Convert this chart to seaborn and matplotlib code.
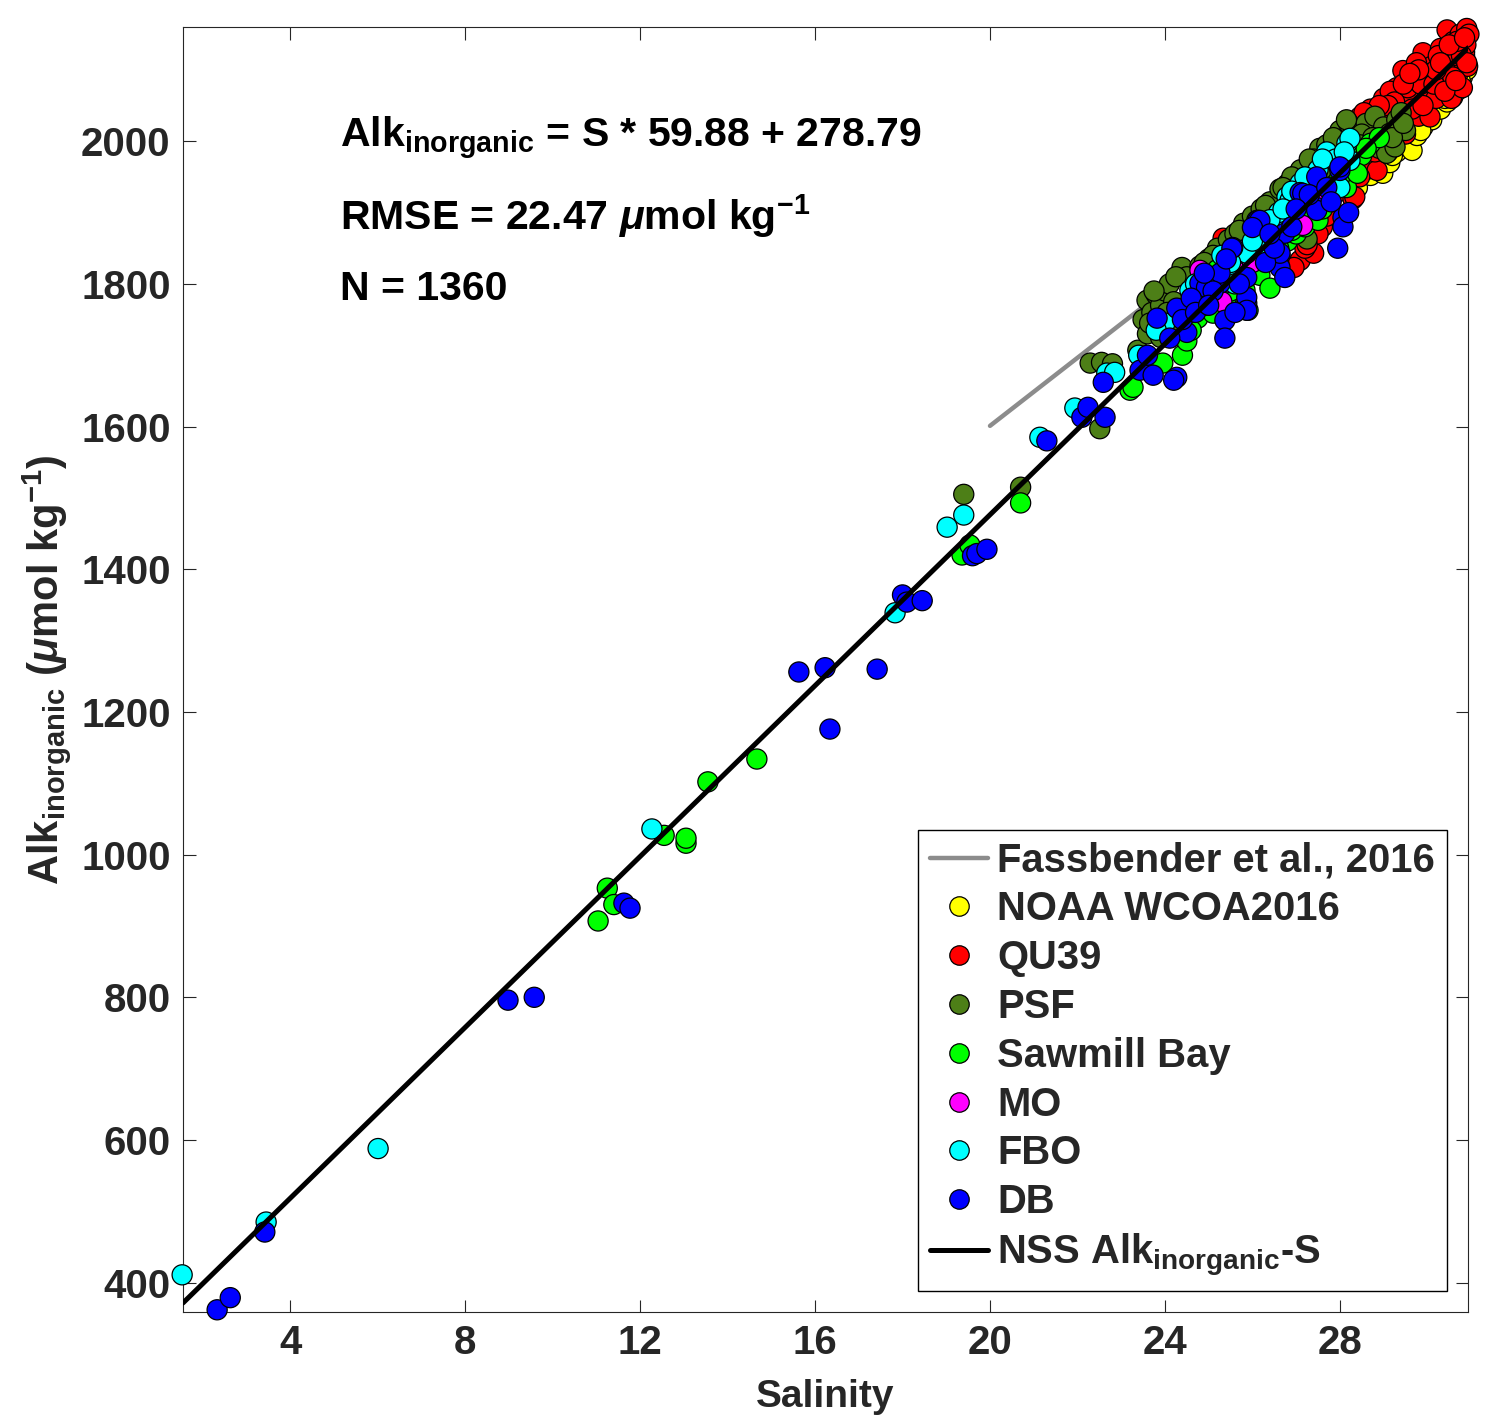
import numpy as np
import pandas as pd
import matplotlib
matplotlib.use("Agg")
import matplotlib.pyplot as plt
from matplotlib.lines import Line2D
import seaborn as sns

# ---------------- data ----------------
noaa = [(28.40,1935),(28.70,1952),(28.98,1955),(29.14,1970),(29.30,1985),(29.50,1995),
        (29.65,1987),(29.76,2008),(29.90,2020),(30.10,2030),(30.30,2045),(30.45,2055),
        (30.58,2062),(30.70,2072),(30.80,2090),(30.90,2100),(29.00,1995),(29.60,2030),
        (30.20,2070),(30.60,2100),(30.85,2120),(28.80,1975),(29.40,2020),(30.00,2060),
        (30.00,2035),(30.40,2060),(30.75,2085),(29.85,2015),(29.20,1980),(28.60,1960)]

qu39 = [(25.33,1864),(25.45,1848),(26.93,1942),(27.09,1833),(27.38,1868),(27.40,1843),
        (26.95,1823),(27.60,1880),(27.80,1905),(27.90,1972),(28.00,1930),(28.10,1990),
        (28.27,2027),(28.30,1919),(28.34,1922),(28.46,2034),(28.50,1960),(28.60,2005),
        (28.70,2045),(28.85,1959),(28.90,2010),(29.00,2060),(29.10,1985),(29.20,2035),
        (29.30,2075),(29.44,2099),(29.50,2010),(29.60,2060),(29.70,2090),(29.80,2035),
        (29.90,2124),(30.00,2070),(30.06,2034),(30.10,2105),(30.20,2060),(30.30,2130),
        (30.35,2085),(30.45,2156),(30.50,2110),(30.55,2060),(30.60,2140),(30.70,2095),
        (30.75,2150),(30.80,2075),(30.85,2125),(30.90,2158),(30.92,2105),(30.65,2120),
        (30.40,2100),(30.25,2120),(29.95,2095),(29.75,2110),(29.55,2075),(29.35,2040),
        (29.15,2070),(28.95,2030),(28.75,1990),(28.55,2020),(28.20,1955),(28.40,1990),
        (30.95,2150),(30.88,2135),(30.78,2120),(30.68,2140),(30.58,2090),(29.85,2080),
        (29.25,2055),(28.65,2030),(27.20,1850),(27.50,1870),(27.70,1895),(28.15,1940),
        (28.45,1950),(28.80,1985),(29.05,2000),(29.40,2025),(29.65,2045),(29.90,2050),
        (30.15,2080),(30.40,2070),(30.65,2085),(30.90,2110),(30.50,2135),(30.20,2100),
        (29.80,2100),(29.45,2080),(29.10,2050),(28.80,2020),(30.85,2145),(30.30,2110),
        (29.60,2095),(28.90,2050),(28.55,2040),(28.20,2010),(27.95,1995),(26.60,1830),
        (27.25,1855)]

psf = [(19.40,1505),(20.70,1515),(22.51,1597),(22.29,1689),(22.55,1690),(22.80,1688),
       (23.38,1707),(23.50,1750),(23.59,1777),(23.70,1760),(23.80,1785),(23.90,1770),
       (24.00,1790),(24.10,1800),(24.20,1775),(24.39,1823),(24.50,1810),(23.60,1730),
       (23.90,1725),(24.00,1745),(24.30,1745),(24.46,1724),(24.60,1790),(24.80,1825),
       (25.00,1835),(25.20,1850),(25.45,1862),(25.60,1870),(25.80,1885),(26.00,1895),
       (26.20,1905),(26.40,1915),(26.63,1933),(26.80,1940),(27.00,1952),(25.30,1770),
       (25.90,1810),(26.50,1860),(27.25,1863),(27.54,1990),(27.40,1975),(27.60,1950),
       (27.70,1995),(27.80,1990),(27.90,2005),(28.00,2015),(28.20,2025),(28.40,2015),
       (28.60,2025),(28.80,2035),(29.00,2020),(29.14,2011),(29.30,2030),(29.50,2015),
       (28.30,1985),(28.60,1990),(28.90,1990),(28.10,1975),(29.07,1983),(29.26,1992),
       (29.40,2040),(28.50,2010),(26.10,1860),(24.70,1760),(27.10,1960),(27.30,1975),
       (26.90,1950),(26.70,1935),(26.30,1910),(25.70,1875),(25.10,1840),(24.90,1830),
       (24.25,1810),(23.75,1790),(24.05,1760),(23.65,1745),(28.75,2005),(29.20,2005),
       (29.45,2025),(28.45,1995),(28.15,2030),(27.85,2005)]

sawmill = [(11.04,907),(11.25,953),(11.40,930),(12.55,1027),(13.05,1016),(13.05,1023),
           (13.55,1102),(14.67,1134),(19.36,1420),(19.54,1434),(20.70,1493),(23.20,1651),
           (23.27,1655),(23.95,1689),(24.40,1700),(24.75,1752),(25.10,1759),(25.40,1780),
           (25.60,1800),(25.83,1791),(25.90,1763),(26.17,1812),(26.40,1794),(26.50,1840),
           (26.80,1860),(27.00,1870),(27.20,1880),(27.50,1889),(27.70,1920),(27.90,1940),
           (28.15,1935),(28.30,1960),(28.50,1980),(28.70,1997),(28.90,2005),(26.00,1855),
           (24.50,1720),(25.20,1820),(27.35,1915),(28.05,1975),(26.60,1850),(26.90,1875),
           (27.10,1895),(27.60,1905),(27.80,1925),(28.00,1950),(28.40,1955),(28.60,1990),
           (25.00,1775),(25.50,1790),(24.60,1735)]

mo = [(24.60,1760),(24.80,1819),(25.00,1790),(25.20,1800),(25.30,1775),(25.49,1802),
      (25.70,1825),(25.90,1850),(26.00,1830),(26.20,1860),(26.50,1865),(26.80,1880),
      (27.15,1882),(27.40,1925),(24.95,1770),(25.60,1840)]

fbo = [(1.53,411),(3.45,485),(6.01,588),(12.27,1036),(17.83,1339),(19.02,1459),
       (19.40,1476),(21.14,1585),(21.94,1626),(22.67,1675),(22.85,1676),(23.40,1700),
       (24.00,1745),(24.30,1765),(24.57,1791),(24.80,1780),(25.10,1800),(25.40,1815),
       (25.60,1800),(25.87,1843),(26.10,1861),(26.30,1850),(26.50,1880),(26.60,1900),
       (26.79,1922),(26.86,1917),(27.09,1941),(27.30,1930),(27.50,1960),(27.70,1985),
       (27.84,1935),(27.90,1975),(28.00,1935),(28.16,1997),(28.23,2004),(28.23,1973),
       (25.30,1840),(26.20,1875),(24.70,1800),(25.00,1810),(25.50,1830),(26.00,1860),
       (26.40,1890),(26.90,1930),(27.20,1950),(27.60,1975),(28.10,1985),(23.80,1735),
       (26.70,1905)]

db = [(2.33,362),(2.63,379),(3.42,471),(8.98,796),(9.58,800),(11.63,932),(11.77,925),
      (15.63,1256),(16.23,1262),(16.34,1176),(17.42,1260),(18.00,1364),(18.10,1354),
      (18.45,1356),(19.60,1419),(19.70,1422),(19.93,1428),(21.30,1580),(22.10,1613),
      (22.24,1627),(22.63,1613),(22.59,1662),(23.43,1679),(23.73,1672),(24.27,1669),
      (24.20,1665),(23.82,1752),(24.27,1766),(24.50,1732),(24.11,1724),(25.37,1749),
      (25.37,1724),(25.87,1773),(25.26,1801),(25.55,1851),(26.10,1889),(26.63,1840),
      (27.47,1950),(27.09,1928),(28.00,1959),(28.07,1893),(28.07,1880),(27.95,1850),
      (27.47,1907),(26.13,1889),(25.53,1850),(26.63,1823),(25.26,1815),(25.87,1809),
      (25.87,1781),(25.87,1763),(24.80,1801),(24.95,1795),(25.10,1790),(27.15,1927),
      (27.47,1903),(26.17,1889),(26.00,1879),(26.74,1871),(26.63,1843),(28.00,1964),
      (26.74,1809),(24.60,1780),(23.60,1700),(24.40,1750),(24.70,1760),(25.00,1770),
      (25.60,1760),(25.70,1800),(26.30,1830),(26.50,1850),(26.90,1880),(27.30,1925),
      (27.70,1935),(27.80,1915),(28.20,1900),(25.40,1835),(24.90,1815),(26.40,1870),
      (27.00,1905)]

series_names = ["NOAA WCOA2016", "QU39", "PSF", "Sawmill Bay", "MO", "FBO", "DB"]
series_data = [noaa, qu39, psf, sawmill, mo, fbo, db]
series_colors = ["#ffff00", "#ff0000", "#4d7f17", "#00ff00", "#ff00ff", "#00ffff", "#0000ff"]

nss_slope, nss_intercept = 59.88, 278.79
nss_range = [1.55, 30.93]
fass_slope, fass_intercept = 47.7, 647.0
fass_range = [20.0, 30.9]

x_ticks = [4, 8, 12, 16, 20, 24, 28]
y_ticks = [400, 600, 800, 1000, 1200, 1400, 1600, 1800, 2000]

# ---------------- style ----------------
sns.set_theme(style="ticks")
plt.rcParams["font.family"] = ["Liberation Sans", "DejaVu Sans"]
plt.rcParams["font.weight"] = "bold"
plt.rcParams["mathtext.fontset"] = "custom"
plt.rcParams["mathtext.rm"] = "Liberation Sans:bold"
plt.rcParams["mathtext.bf"] = "Liberation Sans:bold"
plt.rcParams["mathtext.it"] = "Liberation Sans:italic"
plt.rcParams["axes.edgecolor"] = "#262626"
plt.rcParams["axes.linewidth"] = 0.8

rows = []
for name, pts in zip(series_names, series_data):
    for s, a in pts:
        rows.append((name, s, a))
df = pd.DataFrame(rows, columns=["Source", "S", "Alk"])
palette = dict(zip(series_names, series_colors))

fass_df = pd.DataFrame({"S": fass_range,
                        "Alk": [fass_slope * s + fass_intercept for s in fass_range]})
nss_df = pd.DataFrame({"S": nss_range,
                       "Alk": [nss_slope * s + nss_intercept for s in nss_range]})

fig = plt.figure(figsize=(14.88, 14.24), dpi=100)
ax = fig.add_axes([0.123, 0.0787, 0.8636, 0.9023])

sns.lineplot(data=fass_df, x="S", y="Alk", color="#8c8c8c", lw=3.2,
             estimator=None, ax=ax, zorder=2)
sns.scatterplot(data=df, x="S", y="Alk", hue="Source", hue_order=series_names,
                palette=palette, s=210, edgecolor="black", linewidth=0.9,
                legend=False, ax=ax, zorder=3, clip_on=False)
sns.lineplot(data=nss_df, x="S", y="Alk", color="black", lw=3.6,
             estimator=None, ax=ax, zorder=4)

ax.set_xlim(1.55, 30.93)
ax.set_ylim(359, 2160)
ax.set_xticks(x_ticks)
ax.set_yticks(y_ticks)
ax.tick_params(direction="in", length=9, width=0.8, top=True, right=True,
               labelsize=29, pad=9, colors="#262626")
for lab in ax.get_xticklabels() + ax.get_yticklabels():
    lab.set_fontweight("bold")

ax.set_xlabel("Salinity", fontsize=28, fontweight="bold", color="#262626", labelpad=12)
ax.set_ylabel(r"Alk$_{\mathbf{inorganic}}$ ($\mu$mol kg$^{\mathbf{-1}}$)",
              fontsize=30, fontweight="bold", color="#262626", labelpad=6)

ax.text(0.122, 0.9066, r"Alk$_{\mathbf{inorganic}}$ = S * 59.88 + 278.79",
        transform=ax.transAxes, fontsize=29.5, fontweight="bold", color="black")
ax.text(0.122, 0.842, r"RMSE = 22.47 $\mu$mol kg$^{\mathbf{-1}}$",
        transform=ax.transAxes, fontsize=29.5, fontweight="bold", color="black")
ax.text(0.122, 0.7875, "N = 1360",
        transform=ax.transAxes, fontsize=29.5, fontweight="bold", color="black")

handles = [Line2D([0], [0], color="#8c8c8c", lw=3.2)]
for c in series_colors:
    handles.append(Line2D([0], [0], marker="o", ls="none", markerfacecolor=c,
                          markeredgecolor="black", markersize=14, markeredgewidth=0.9))
handles.append(Line2D([0], [0], color="black", lw=3.6))
labels = ["Fassbender et al., 2016"] + series_names + [r"NSS Alk$_{\mathbf{inorganic}}$-S"]
leg = ax.legend(handles, labels, loc="lower right", bbox_to_anchor=(0.9837, 0.0163),
                borderaxespad=0, prop={"size": 28.8, "weight": "bold"},
                frameon=True, fancybox=False, framealpha=1, edgecolor="black",
                handlelength=1.45, handletextpad=0.22, borderpad=0.3,
                labelspacing=0.27)
leg.get_frame().set_linewidth(1.0)

fig.savefig("out.png", dpi=100)
